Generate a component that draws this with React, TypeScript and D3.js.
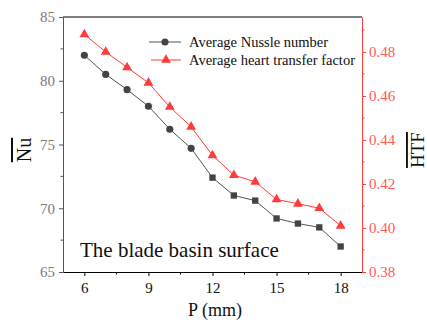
import React, { useRef, useEffect } from 'react';
import * as d3 from 'd3';

const pitch = [6, 7, 8, 9, 10, 11, 12, 13, 14, 15, 16, 17, 18];
const nuValues = [82.0, 80.5, 79.3, 78.0, 76.2, 74.7, 72.4, 71.0, 70.6, 69.2, 68.8, 68.5, 67.0];
const htfValues = [0.488, 0.480, 0.473, 0.466, 0.455, 0.446, 0.433, 0.424, 0.421, 0.413, 0.411, 0.409, 0.401];
const nuShapes = ['circle', 'circle', 'circle', 'circle', 'circle', 'circle', 'square', 'square', 'square', 'square', 'square', 'square', 'square'];
const xTicks = [6, 9, 12, 15, 18];
const nuTicks = [65, 70, 75, 80, 85];
const htfTicks = [0.38, 0.40, 0.42, 0.44, 0.46, 0.48];

const GREY = '#444';
const RED = '#ff3b3b';
const FONT = 'Liberation Serif';

const App = () => {
  const svgRef = useRef(null);

  useEffect(() => {
    document.body.style.margin = '0';
    const svg = d3.select(svgRef.current);
    svg.selectAll('*').remove();

    const margin = { left: 63, right: 65, top: 17, bottom: 48 };
    const width = 427;
    const height = 320;
    const w = width - margin.left - margin.right;
    const h = height - margin.top - margin.bottom;

    const x = d3.scaleLinear().domain([5, 19]).range([0, w]);
    const yL = d3.scaleLinear().domain([65, 85]).range([h, 0]);
    const yR = d3.scaleLinear().domain([0.38, 0.4959]).range([h, 0]);

    const g = svg.append('g').attr('transform', `translate(${margin.left},${margin.top})`);

    // top border
    g.append('line').attr('x1', 0).attr('x2', w).attr('y1', 0).attr('y2', 0)
      .attr('stroke', '#000').attr('stroke-width', 1);

    // bottom axis
    const xAxis = g.append('g').attr('transform', `translate(0,${h})`)
      .call(d3.axisBottom(x).tickValues(xTicks).tickSize(4).tickSizeOuter(0).tickPadding(6));
    xAxis.attr('font-family', FONT).attr('font-size', 15);
    xAxis.select('.domain').attr('stroke', '#000');
    xAxis.selectAll('text').attr('fill', '#111');
    xAxis.selectAll('.minor').data(d3.range(7.5, 18, 3)).enter().append('line')
      .attr('x1', d => x(d)).attr('x2', d => x(d)).attr('y1', 0).attr('y2', 2.5).attr('stroke', '#000');

    // left axis
    const lAxis = g.append('g')
      .call(d3.axisLeft(yL).tickValues(nuTicks).tickSize(4).tickSizeOuter(0).tickPadding(4));
    lAxis.attr('font-family', FONT).attr('font-size', 15);
    lAxis.select('.domain').attr('stroke', '#555');
    lAxis.selectAll('line').attr('stroke', '#555');
    lAxis.selectAll('text').attr('fill', '#7a7a7a');
    lAxis.selectAll('.minor').data(d3.range(67.5, 85, 5)).enter().append('line')
      .attr('y1', d => yL(d)).attr('y2', d => yL(d)).attr('x1', 0).attr('x2', -2.5).attr('stroke', '#555');

    // right axis
    const rAxis = g.append('g').attr('transform', `translate(${w},0)`)
      .call(d3.axisRight(yR).tickValues(htfTicks).tickSize(4).tickSizeOuter(0).tickPadding(3)
        .tickFormat(d3.format('.2f')));
    rAxis.attr('font-family', FONT).attr('font-size', 15);
    rAxis.select('.domain').attr('stroke', RED);
    rAxis.selectAll('line').attr('stroke', RED);
    rAxis.selectAll('text').attr('fill', '#ff5a5a');
    rAxis.selectAll('.minor').data(d3.range(0.39, 0.495, 0.02)).enter().append('line')
      .attr('y1', d => yR(d)).attr('y2', d => yR(d)).attr('x1', 0).attr('x2', 2.5).attr('stroke', RED);

    // lines
    const nuLine = d3.line().x((d, i) => x(pitch[i])).y(d => yL(d));
    const htfLine = d3.line().x((d, i) => x(pitch[i])).y(d => yR(d));

    g.append('path').datum(nuValues).attr('d', nuLine).attr('fill', 'none')
      .attr('stroke', '#555').attr('stroke-width', 1);
    g.append('path').datum(htfValues).attr('d', htfLine).attr('fill', 'none')
      .attr('stroke', RED).attr('stroke-width', 1);

    const tri = d3.symbol().type(d3.symbolTriangle).size(42);
    const circ = d3.symbol().type(d3.symbolCircle).size(40);
    const sq = d3.symbol().type(d3.symbolSquare).size(40);

    g.selectAll('.nu').data(nuValues).enter().append('path')
      .attr('transform', (d, i) => `translate(${x(pitch[i])},${yL(d)})`)
      .attr('d', (d, i) => (nuShapes[i] === 'circle' ? circ() : sq()))
      .attr('fill', GREY);

    g.selectAll('.htf').data(htfValues).enter().append('path')
      .attr('transform', (d, i) => `translate(${x(pitch[i])},${yR(d)})`)
      .attr('d', tri())
      .attr('fill', RED);

    // legend
    const leg = g.append('g').attr('transform', 'translate(86,25)')
      .attr('font-family', FONT).attr('font-size', 14.5).attr('fill', '#111');
    leg.append('line').attr('x1', 0).attr('x2', 32).attr('y1', 0).attr('y2', 0).attr('stroke', '#555');
    leg.append('path').attr('transform', 'translate(16,0)').attr('d', circ()).attr('fill', GREY);
    leg.append('text').attr('x', 40).attr('y', 5).text('Average Nussle number');
    leg.append('line').attr('x1', 2).attr('x2', 32).attr('y1', 18).attr('y2', 18).attr('stroke', RED);
    leg.append('path').attr('transform', 'translate(17,18)').attr('d', tri()).attr('fill', RED);
    leg.append('text').attr('x', 40).attr('y', 23).text('Average heart transfer factor');

    // annotation
    g.append('text').attr('x', 17).attr('y', 240).text('The blade basin surface')
      .attr('font-family', FONT).attr('font-size', 21).attr('fill', '#111');

    // axis titles
    svg.append('text').attr('x', 215).attr('y', 316).attr('text-anchor', 'middle')
      .text('P (mm)').attr('font-family', FONT).attr('font-size', 18).attr('fill', '#111');
    svg.append('text').attr('transform', 'translate(31,150) rotate(-90)').attr('text-anchor', 'middle')
      .text('Nu').attr('font-family', FONT).attr('font-size', 20)
      .attr('text-decoration', 'overline').attr('fill', '#111');
    svg.append('text').attr('transform', 'translate(424,150) rotate(-90)').attr('text-anchor', 'middle')
      .text('HTF').attr('font-family', FONT).attr('font-size', 19)
      .attr('text-decoration', 'overline').attr('fill', '#111');
  }, []);

  return <svg ref={svgRef} width={427} height={320} style={{ display: 'block' }} />;
};

export default App;
